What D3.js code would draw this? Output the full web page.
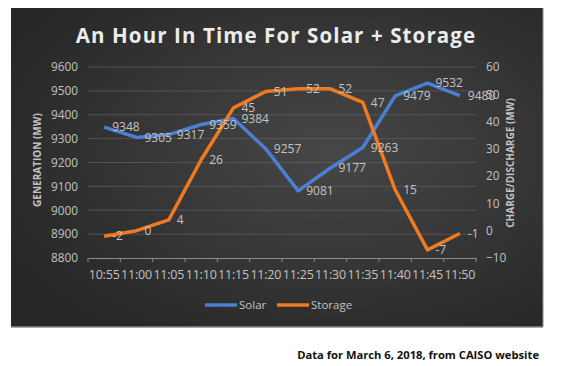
<!DOCTYPE html>
<html><head><meta charset="utf-8">
<script src="https://cdn.jsdelivr.net/npm/d3@7"></script>
<style>body{margin:0;background:#fff}svg{display:block}</style>
</head><body>
<svg id="c" width="569" height="366"></svg>
<script>
const categories = ["10:55","11:00","11:05","11:10","11:15","11:20","11:25","11:30","11:35","11:40","11:45","11:50"];
const solar = [9348,9305,9317,9359,9384,9257,9081,9177,9263,9479,9532,9480];
const storage = [-2,0,4,26,45,51,52,52,47,15,-7,-1];
const leftTicks = [8800,8900,9000,9100,9200,9300,9400,9500,9600];
const rightTicks = [-10,0,10,20,30,40,50,60];

const svg = d3.select("#c");
const defs = svg.append("defs");
const g = defs.append("radialGradient").attr("id","bg").attr("cx","60%").attr("cy","45%").attr("r","70%");
g.append("stop").attr("offset","0%").attr("stop-color","#474747");
g.append("stop").attr("offset","100%").attr("stop-color","#262626");

svg.append("rect").attr("x",11).attr("y",8).attr("width",532).attr("height",319).attr("fill","url(#bg)");
svg.append("line").attr("x1",11).attr("x2",543).attr("y1",327).attr("y2",327).attr("stroke","#8a8a8a").attr("stroke-width",1.5);
svg.append("line").attr("x1",543).attr("x2",543).attr("y1",8).attr("y2",327).attr("stroke","#8a8a8a").attr("stroke-width",1);

const x = d3.scaleBand().domain(categories).range([88,476]);
const yL = d3.scaleLinear().domain([8800,9600]).range([258,67]);
const yR = d3.scaleLinear().domain([-10,60]).range([258,67]);
const cx = d => x(d) + x.bandwidth()/2;

// gridlines
svg.append("g").selectAll("line").data(leftTicks.slice(1)).join("line")
  .attr("x1",88).attr("x2",476).attr("y1",d=>yL(d)).attr("y2",d=>yL(d))
  .attr("stroke","#5a5a5a").attr("stroke-width",0.8);

// title
svg.append("text").attr("x",276).attr("y",43).attr("text-anchor","middle")
  .attr("font-family","Open Sans").attr("font-weight","bold").attr("font-size",20.5)
  .attr("letter-spacing",1.1).attr("fill","#ececec").text("An Hour In Time For Solar + Storage");

const tickFont = {family:"Open Sans", size:11.8, color:"#c2c2c2"};

// left axis
const la = svg.append("g").attr("transform","translate(78,0)")
  .call(d3.axisLeft(yL).tickValues(leftTicks).tickSize(0).tickPadding(0).tickFormat(d3.format("d")));
la.select(".domain").remove();
la.selectAll("text").attr("font-family",tickFont.family).attr("font-size",tickFont.size).attr("fill",tickFont.color);

// right axis
const ra = svg.append("g").attr("transform","translate(486,0)")
  .call(d3.axisRight(yR).tickValues(rightTicks).tickSize(0).tickPadding(0));
ra.select(".domain").remove();
ra.selectAll("text").attr("font-family",tickFont.family).attr("font-size",tickFont.size).attr("fill",tickFont.color);

// x axis
const xa = svg.append("g").attr("transform","translate(0,258)")
  .call(d3.axisBottom(x).tickSize(0).tickPadding(12));
xa.select(".domain").attr("stroke","#8c8c8c");
xa.selectAll("text").attr("font-family",tickFont.family).attr("font-size",12.5).attr("letter-spacing",-0.2).attr("fill",tickFont.color);
xa.selectAll(".bt").data(d3.range(categories.length+1)).join("line")
  .attr("x1",i=>88+i*x.bandwidth()).attr("x2",i=>88+i*x.bandwidth())
  .attr("y1",0).attr("y2",4).attr("stroke","#8c8c8c");

// axis titles
svg.append("text").attr("transform","translate(41,160) rotate(-90)").attr("text-anchor","middle")
  .attr("font-family","Open Sans").attr("font-weight","bold").attr("font-size",10).attr("fill","#c2c2c2")
  .text("GENERATION (MW)");
svg.append("text").attr("transform","translate(514,163) rotate(-90)").attr("text-anchor","middle")
  .attr("font-family","Open Sans").attr("font-weight","bold").attr("font-size",10).attr("fill","#c2c2c2")
  .text("CHARGE/DISCHARGE (MW)");

const blue = "#4a7fd4", orange = "#ee7a22";
const lineL = d3.line().x((d,i)=>cx(categories[i])).y(d=>yL(d));
const lineR = d3.line().x((d,i)=>cx(categories[i])).y(d=>yR(d));
svg.append("path").datum(solar).attr("d",lineL).attr("fill","none").attr("stroke",blue).attr("stroke-width",3.5).attr("stroke-linejoin","round");
svg.append("path").datum(storage).attr("d",lineR).attr("fill","none").attr("stroke",orange).attr("stroke-width",3.5).attr("stroke-linejoin","round");

// data labels
const lab = {family:"Open Sans", size:12, color:"#c4c4c4"};
svg.append("g").selectAll("text").data(solar).join("text")
  .attr("x",(d,i)=>cx(categories[i])+8).attr("y",d=>yL(d)).attr("dy","0.35em")
  .attr("font-family",lab.family).attr("font-size",lab.size).attr("fill",lab.color).text(d=>d);
svg.append("g").selectAll("text").data(storage).join("text")
  .attr("x",(d,i)=>cx(categories[i])+8).attr("y",d=>yR(d)).attr("dy","0.35em")
  .attr("font-family",lab.family).attr("font-size",lab.size).attr("fill",lab.color).text(d=>d);

// legend
const leg = [{n:"Solar",c:blue,x:205},{n:"Storage",c:orange,x:277}];
const lg = svg.append("g").selectAll("g").data(leg).join("g").attr("transform",d=>`translate(${d.x},305)`);
lg.append("line").attr("x1",0).attr("x2",32).attr("stroke",d=>d.c).attr("stroke-width",3.5);
lg.append("text").attr("x",34).attr("dy","0.35em").attr("font-family","Open Sans").attr("font-size",11.5)
  .attr("fill","#c2c2c2").text(d=>d.n);

// footer
svg.append("text").attr("x",539).attr("y",359).attr("text-anchor","end")
  .attr("font-family","Open Sans").attr("font-weight","bold").attr("font-size",11.2).attr("fill","#111")
  .text("Data for March 6, 2018, from CAISO website");
</script>
</body></html>
